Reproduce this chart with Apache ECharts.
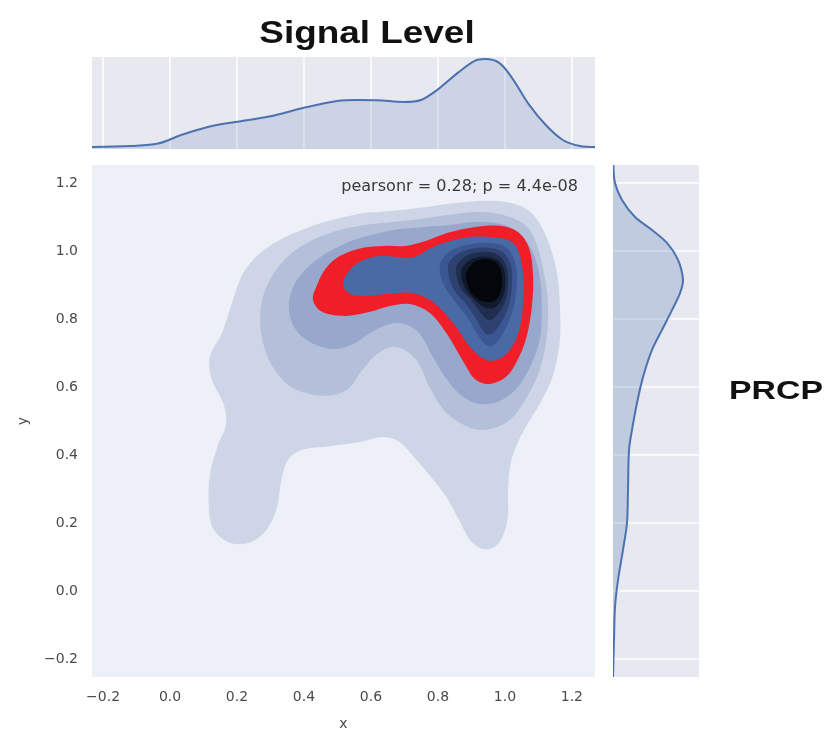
<!DOCTYPE html>
<html><head><meta charset="utf-8">
<script src="https://cdn.jsdelivr.net/npm/echarts@6/dist/echarts.min.js"></script>
<style>html,body{margin:0;padding:0;background:#fff}#c{width:830px;height:729px}</style>
</head><body><div id="c"></div>
<script>
// ---- data ----
const tickValues = [-0.2, 0.0, 0.2, 0.4, 0.6, 0.8, 1.0, 1.2];
const xRange = [-0.233, 1.269];
const yRange = [-0.253, 1.253];
const topDensityMax = 2.3;
const rightDensityMax = 2.15;

// marginal KDE of x: [x, density]
const topKde = [[-0.233,0.05],[-0.116,0.075],[-0.036,0.135],[0.033,0.35],[0.113,0.55],[0.194,0.675],[0.296,0.81],[0.397,1.025],[0.499,1.2],[0.558,1.225],[0.618,1.22],[0.699,1.175],[0.749,1.225],[0.8,1.49],[0.86,1.91],[0.91,2.205],[0.94,2.25],[0.982,2.16],[1.021,1.78],[1.072,1.11],[1.122,0.6],[1.173,0.225],[1.224,0.075],[1.269,0.05]];

// marginal KDE of y: [density, y]
const rightKde = [[0.01,1.253],[0.05,1.2],[0.225,1.15],[0.55,1.1],[0.975,1.062],[1.35,1.024],[1.625,0.974],[1.75,0.915],[1.675,0.876],[1.475,0.826],[1.225,0.768],[0.975,0.709],[0.75,0.629],[0.6,0.553],[0.475,0.474],[0.4,0.415],[0.375,0.297],[0.35,0.2],[0.25,0.121],[0.125,0.032],[0.05,-0.047],[0.025,-0.144],[0.0,-0.253]];

// filled KDE contour levels (outer to inner), [x, y]
const contourL1 = [[0.576,1.112],[0.427,1.074],[0.293,1.012],[0.224,0.944],[0.188,0.856],[0.155,0.759],[0.119,0.688],[0.125,0.621],[0.161,0.547],[0.167,0.488],[0.143,0.429],[0.119,0.341],[0.116,0.247],[0.128,0.185],[0.173,0.144],[0.233,0.141],[0.287,0.179],[0.319,0.244],[0.331,0.318],[0.352,0.385],[0.394,0.415],[0.478,0.426],[0.567,0.438],[0.633,0.453],[0.681,0.441],[0.731,0.391],[0.782,0.332],[0.827,0.274],[0.866,0.203],[0.896,0.15],[0.931,0.124],[0.967,0.129],[0.994,0.162],[1.009,0.224],[1.009,0.297],[1.018,0.379],[1.039,0.438],[1.069,0.494],[1.107,0.556],[1.143,0.632],[1.164,0.738],[1.164,0.841],[1.155,0.938],[1.134,1.015],[1.101,1.085],[1.063,1.124],[1.003,1.144],[0.925,1.147],[0.827,1.138],[0.725,1.124],[0.627,1.115]];
const contourL2 = [[0.666,1.085],[0.567,1.074],[0.478,1.053],[0.388,1.012],[0.328,0.959],[0.284,0.885],[0.269,0.803],[0.281,0.718],[0.313,0.65],[0.367,0.597],[0.457,0.574],[0.528,0.591],[0.570,0.644],[0.615,0.694],[0.672,0.718],[0.731,0.685],[0.776,0.597],[0.818,0.532],[0.866,0.494],[0.919,0.474],[0.976,0.482],[1.024,0.512],[1.066,0.571],[1.104,0.65],[1.125,0.747],[1.128,0.856],[1.113,0.953],[1.093,1.024],[1.063,1.074],[1.006,1.103],[0.925,1.115],[0.827,1.106],[0.725,1.091]];
const contourL3 = [[0.666,1.062],[0.567,1.038],[0.507,1.015],[0.448,0.982],[0.397,0.938],[0.364,0.885],[0.355,0.826],[0.376,0.768],[0.424,0.729],[0.487,0.712],[0.546,0.726],[0.597,0.759],[0.657,0.785],[0.701,0.785],[0.746,0.756],[0.785,0.688],[0.827,0.621],[0.875,0.571],[0.925,0.55],[0.985,0.559],[1.036,0.597],[1.075,0.659],[1.104,0.738],[1.110,0.835],[1.104,0.924],[1.084,0.994],[1.054,1.041],[1.006,1.074],[0.925,1.085],[0.827,1.076],[0.725,1.068]];
const contourL4 = [[0.427,0.856],[0.439,0.9],[0.466,0.95],[0.507,0.985],[0.573,1.009],[0.642,1.015],[0.701,1.015],[0.761,1.029],[0.827,1.053],[0.910,1.071],[0.985,1.074],[1.039,1.056],[1.072,1.009],[1.084,0.929],[1.081,0.841],[1.066,0.753],[1.042,0.688],[1.006,0.632],[0.955,0.609],[0.913,0.621],[0.875,0.676],[0.827,0.756],[0.776,0.818],[0.716,0.844],[0.657,0.838],[0.597,0.821],[0.522,0.809],[0.454,0.821]];
const contourL5 = [[0.516,0.903],[0.537,0.944],[0.573,0.971],[0.627,0.985],[0.725,0.982],[0.785,1.012],[0.875,1.038],[0.955,1.041],[1.024,1.024],[1.051,0.959],[1.054,0.841],[1.036,0.747],[0.994,0.688],[0.946,0.679],[0.896,0.718],[0.845,0.788],[0.785,0.85],[0.725,0.876],[0.657,0.874],[0.582,0.868],[0.537,0.874]];
const contourL6 = [[0.806,0.959],[0.833,0.997],[0.884,1.018],[0.955,1.024],[1.006,1.009],[1.030,0.968],[1.036,0.909],[1.027,0.838],[1.003,0.774],[0.973,0.729],[0.949,0.721],[0.925,0.744],[0.893,0.797],[0.848,0.856],[0.815,0.906]];
const contourL7 = [[0.830,0.956],[0.854,0.988],[0.896,1.006],[0.955,1.009],[0.997,0.994],[1.018,0.956],[1.021,0.9],[1.012,0.841],[0.988,0.788],[0.961,0.756],[0.940,0.759],[0.916,0.797],[0.881,0.847],[0.845,0.891]];
const contourL8 = [[0.854,0.95],[0.875,0.979],[0.907,0.994],[0.955,0.997],[0.988,0.982],[1.006,0.95],[1.009,0.9],[1.0,0.85],[0.976,0.812],[0.952,0.797],[0.928,0.818],[0.899,0.856],[0.866,0.894]];
const contourL9 = [[0.869,0.938],[0.887,0.968],[0.919,0.982],[0.955,0.982],[0.985,0.968],[1.0,0.935],[1.0,0.891],[0.988,0.853],[0.964,0.832],[0.937,0.835],[0.907,0.859],[0.881,0.891]];
const contourL10 = [[0.884,0.929],[0.899,0.959],[0.925,0.974],[0.958,0.974],[0.982,0.956],[0.991,0.921],[0.988,0.882],[0.973,0.856],[0.946,0.85],[0.919,0.859],[0.896,0.882]];

const contourLevels = [contourL1, contourL2, contourL3, contourL4, contourL5, contourL6, contourL7, contourL8, contourL9, contourL10];
const levelColors = ['#cdd5e6','#b4c0d9','#97a8cc','#f01e28','#4a6aa6','#3b5690','#2d4270','#1f2e4e','#111a2d','#04060b'];

const titleTop = 'Signal Level';
const titleRight = 'PRCP';
const statText = 'pearsonr = 0.28; p = 4.4e-08';

// ---- chart ----
const chart = echarts.init(document.getElementById('c'), null, {renderer: 'canvas'});
const fmt = v => (v < 0 ? '\u2212' + Math.abs(v).toFixed(1) : v.toFixed(1));
const labelStyle = {color: '#4a4a4a', fontSize: 14, fontFamily: 'DejaVu Sans'};

function contourSeries(points, color, z) {
  return {
    type: 'custom', xAxisIndex: 0, yAxisIndex: 0, data: points, clip: true, silent: true, z: z,
    renderItem: function (params, api) {
      if (params.dataIndex !== 0) return null;
      const pts = points.map(p => api.coord(p));
      return {type: 'polygon', shape: {points: pts, smooth: 0.35}, style: {fill: color, stroke: null}};
    }
  };
}

function gridLineSeries(xi, yi, vertical) {
  return {
    type: 'custom', xAxisIndex: xi, yAxisIndex: yi, silent: true, clip: true, z: 1,
    data: tickValues.map(v => vertical ? [v, 0] : [0, v]),
    renderItem: function (params, api) {
      const cs = params.coordSys;
      const p = api.coord([api.value(0), api.value(1)]);
      const shape = vertical ? {x1: p[0], y1: cs.y, x2: p[0], y2: cs.y + cs.height}
                             : {x1: cs.x, y1: p[1], x2: cs.x + cs.width, y2: p[1]};
      return {type: 'line', shape: shape, style: {stroke: '#ffffff', lineWidth: 1.5}};
    }
  };
}

const series = [];
contourLevels.forEach((lv, i) => series.push(contourSeries(lv, levelColors[i], 2 + i * 0.01)));
series.push(gridLineSeries(1, 1, true));
series.push(gridLineSeries(2, 2, false));
series.push({
  type: 'line', xAxisIndex: 1, yAxisIndex: 1, data: topKde, smooth: 0.35, showSymbol: false, z: 3, silent: true,
  lineStyle: {color: '#4c72b0', width: 2},
  areaStyle: {color: 'rgba(76,114,176,0.25)'}
});
series.push({
  type: 'custom', xAxisIndex: 2, yAxisIndex: 2, data: rightKde, clip: true, silent: true, z: 3,
  renderItem: function (params, api) {
    if (params.dataIndex !== 0) return null;
    const pts = rightKde.map(p => api.coord(p));
    const fillPts = [api.coord([0, rightKde[0][1]])].concat(pts, [api.coord([0, rightKde[rightKde.length - 1][1]])]);
    return {type: 'group', children: [
      {type: 'polygon', shape: {points: fillPts, smooth: 0.3}, style: {fill: 'rgba(76,114,176,0.25)', stroke: null}},
      {type: 'polyline', shape: {points: pts, smooth: 0.3}, style: {stroke: '#4c72b0', lineWidth: 2, fill: null}}
    ]};
  }
});

const hiddenAxis = {axisLine: {show: false}, axisTick: {show: false}, axisLabel: {show: false}, splitLine: {show: false}};

chart.setOption({
  backgroundColor: '#ffffff',
  animation: false,
  grid: [
    {left: 92, top: 165, width: 503, height: 512, show: true, backgroundColor: '#eef0f7', borderWidth: 0, containLabel: false, outerBoundsMode: 'none'},
    {left: 92, top: 57, width: 503, height: 92, show: true, backgroundColor: '#e8e8f0', borderWidth: 0, containLabel: false, outerBoundsMode: 'none'},
    {left: 613, top: 165, width: 86, height: 512, show: true, backgroundColor: '#e8e8f0', borderWidth: 0, containLabel: false, outerBoundsMode: 'none'}
  ],
  xAxis: [
    {gridIndex: 0, type: 'value', min: xRange[0], max: xRange[1], name: 'x', nameLocation: 'middle', nameGap: 40,
     nameTextStyle: {color: '#4a4a4a', fontSize: 14, fontFamily: 'DejaVu Sans'},
     axisLine: {show: false}, axisTick: {show: false, customValues: tickValues}, splitLine: {show: false},
     axisLabel: Object.assign({customValues: tickValues, formatter: fmt, margin: 13, showMinLabel: true, showMaxLabel: true}, labelStyle)},
    Object.assign({gridIndex: 1, type: 'value', min: xRange[0], max: xRange[1]}, hiddenAxis),
    Object.assign({gridIndex: 2, type: 'value', min: 0, max: rightDensityMax}, hiddenAxis)
  ],
  yAxis: [
    {gridIndex: 0, type: 'value', min: yRange[0], max: yRange[1], name: 'y', nameLocation: 'middle', nameGap: 62,
     nameTextStyle: {color: '#4a4a4a', fontSize: 14, fontFamily: 'DejaVu Sans'},
     axisLine: {show: false}, axisTick: {show: false, customValues: tickValues}, splitLine: {show: false},
     axisLabel: Object.assign({customValues: tickValues, formatter: fmt, margin: 14}, labelStyle)},
    Object.assign({gridIndex: 1, type: 'value', min: 0, max: topDensityMax}, hiddenAxis),
    Object.assign({gridIndex: 2, type: 'value', min: yRange[0], max: yRange[1]}, hiddenAxis)
  ],
  graphic: [
    {type: 'text', x: 367, y: 34, scaleX: 1.19, z: 100,
     style: {text: titleTop, x: 0, y: 0, align: 'center', verticalAlign: 'middle', fill: '#111', font: 'bold 31px "Liberation Sans", Arial, sans-serif'}},
    {type: 'text', x: 776, y: 392, scaleX: 1.3, z: 100,
     style: {text: titleRight, x: 0, y: 0, align: 'center', verticalAlign: 'middle', fill: '#111', font: 'bold 26px "Liberation Sans", Arial, sans-serif'}},
    {type: 'text', x: 578, y: 187, scaleX: 1.07, z: 100,
     style: {text: statText, x: 0, y: 0, align: 'right', verticalAlign: 'middle', fill: '#3a3a3a', font: '15px "DejaVu Sans", sans-serif'}}
  ],
  series: series
});
</script></body></html>
